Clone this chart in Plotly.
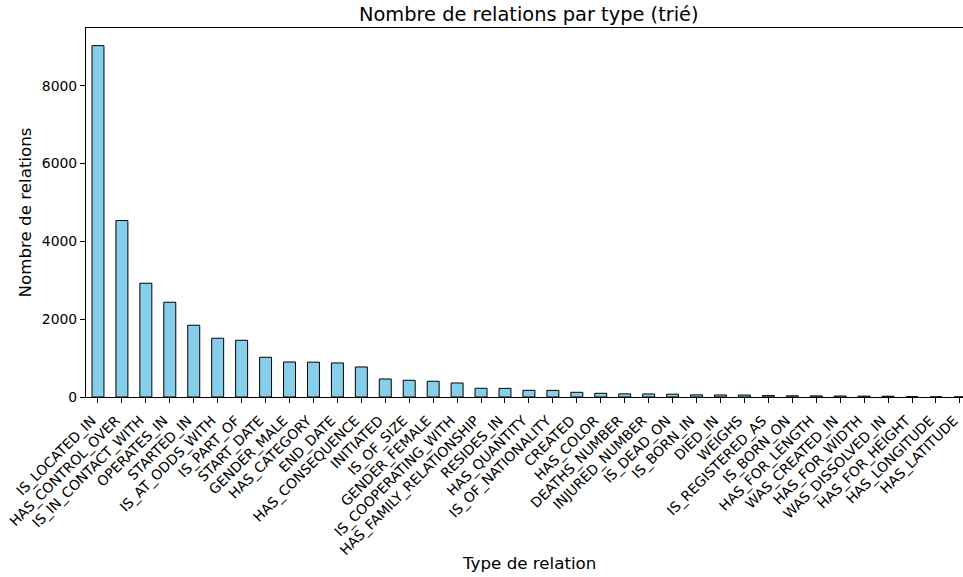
import plotly.graph_objects as go

categories = [
    "IS_LOCATED_IN", "HAS_CONTROL_OVER", "IS_IN_CONTACT_WITH", "OPERATES_IN",
    "STARTED_IN", "IS_AT_ODDS_WITH", "IS_PART_OF", "START_DATE", "GENDER_MALE",
    "HAS_CATEGORY", "END_DATE", "HAS_CONSEQUENCE", "INITIATED", "IS_OF_SIZE",
    "GENDER_FEMALE", "IS_COOPERATING_WITH", "HAS_FAMILY_RELATIONSHIP",
    "RESIDES_IN", "HAS_QUANTITY", "IS_OF_NATIONALITY", "CREATED", "HAS_COLOR",
    "DEATHS_NUMBER", "INJURED_NUMBER", "IS_DEAD_ON", "IS_BORN_IN", "DIED_IN",
    "WEIGHS", "IS_REGISTERED_AS", "IS_BORN_ON", "HAS_FOR_LENGTH",
    "WAS_CREATED_IN", "HAS_FOR_WIDTH", "WAS_DISSOLVED_IN", "HAS_FOR_HEIGHT",
    "HAS_LONGITUDE", "HAS_LATITUDE",
]
counts = [
    9030, 4535, 2924, 2435, 1844, 1510, 1458, 1021, 900, 895, 875, 772,
    463, 430, 404, 360, 224, 222, 172, 170, 121, 95,
    80, 78, 72, 55, 52, 50, 35, 30, 28, 25, 22, 20, 8, 4, 3,
]
y_ticks = [0, 2000, 4000, 6000, 8000]

FONT = "DejaVu Sans"

fig = go.Figure()
fig.add_trace(go.Bar(
    x=list(range(len(categories))),
    y=counts,
    width=0.5,
    marker=dict(color="#87CEEB", line=dict(color="black", width=1)),
    hoverinfo="x+y",
))

fig.update_layout(
    width=963, height=577,
    margin=dict(l=86, r=0, t=28, b=180),
    paper_bgcolor="white", plot_bgcolor="white",
    showlegend=False,
    font=dict(family=FONT, color="black"),
    xaxis=dict(
        range=[-0.5, 36.13],
        automargin=False,
        tickmode="array",
        tickvals=list(range(len(categories))),
        ticktext=categories,
        tickangle=-45,
        ticklabelshift=-6,
        ticklabelstandoff=4,
        tickfont=dict(size=13.9, family=FONT, color="black"),
        ticks="outside", ticklen=5, tickwidth=1, tickcolor="black",
        showline=True, linecolor="black", linewidth=1.1, mirror=True,
        showgrid=False, zeroline=False,
    ),
    yaxis=dict(
        range=[0, 9483],
        automargin=False,
        tickmode="array",
        tickvals=y_ticks,
        ticktext=[str(v) for v in y_ticks],
        tickfont=dict(size=13.9, family=FONT, color="black"),
        ticks="outside", ticklen=5, tickwidth=1, tickcolor="black",
        showline=True, linecolor="black", linewidth=1.1, mirror=False,
        showgrid=False, zeroline=False,
    ),
    annotations=[
        dict(text="Nombre de relations par type (trié)", xref="paper", yref="paper",
             x=0.505, y=1, yshift=14, xanchor="center", yanchor="middle",
             showarrow=False, font=dict(size=19.4, family=FONT, color="black")),
        dict(text="Nombre de relations", xref="paper", yref="paper",
             x=0, y=0.5, xshift=-62, xanchor="center", yanchor="middle",
             textangle=-90, showarrow=False,
             font=dict(size=16.7, family=FONT, color="black")),
        dict(text="Type de relation", xref="paper", yref="paper",
             x=0.505, y=0, yshift=-166, xanchor="center", yanchor="middle",
             showarrow=False, font=dict(size=16.7, family=FONT, color="black")),
    ],
)

fig.write_html(
    "out.html",
    config={"displayModeBar": False},
    post_script="document.body.style.margin='0px';document.body.style.padding='0px';document.body.style.overflow='hidden';",
)
